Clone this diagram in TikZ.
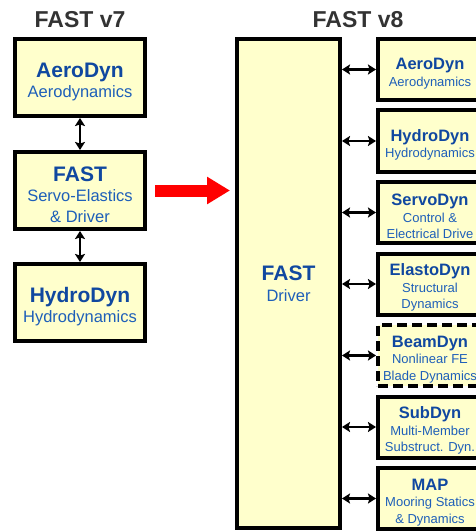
\documentclass[tikz,border=0pt]{standalone}
\usepackage{fontspec}
\setmainfont{Liberation Sans}
\usetikzlibrary{arrows.meta}
\definecolor{boxfill}{RGB}{255,255,204}
\definecolor{ttlblue}{RGB}{16,72,160}
\definecolor{subblue}{RGB}{30,95,185}
\definecolor{headgray}{RGB}{51,51,51}
\newcommand\LTitle[1]{{\fontsize{21}{20.5}\selectfont\bfseries\color{ttlblue}\rule{0pt}{23pt}#1}}
\newcommand\DTitle[1]{{\fontsize{21}{20.5}\selectfont\bfseries\color{ttlblue}#1}}
\newcommand\RTitle[1]{{\fontsize{16.5}{16.5}\selectfont\bfseries\color{ttlblue}\rule{0pt}{19.5pt}#1}}
\begin{document}
\begin{tikzpicture}[x=1pt,y=-1pt,
  modbox/.style={draw=black, line width=4pt, fill=boxfill, inner sep=0pt, outer sep=2pt, align=center, text=subblue},
  leftbox/.style={modbox, minimum width=130pt, minimum height=77pt, font=\fontsize{16.5}{20.5}\selectfont},
  rightbox/.style={modbox, minimum width=104pt, minimum height=61pt, font=\fontsize{13}{16.5}\selectfont},
  heading/.style={font=\fontsize{23}{27}\selectfont\bfseries, text=headgray, inner sep=0pt},
  dbl/.style={{Stealth[length=8pt,width=10pt,inset=1.5pt]}-{Stealth[length=8pt,width=10pt,inset=1.5pt]}, line width=2.6pt}
]
\useasboundingbox (0,0) rectangle (475,532);

\node[heading] (t7) at (80,19.5) {FAST v7};
\node[heading] (t8) at (358,19.5) {FAST v8};

\node[leftbox] (la) at (80,77.5) {\LTitle{AeroDyn}\\Aerodynamics};
\node[leftbox] (lf) at (80,190.5) {\LTitle{FAST}\\Servo-Elastics\\\& Driver};
\node[leftbox] (lh) at (80,302.5) {\LTitle{HydroDyn}\\Hydrodynamics};

\draw[dbl] (la.south) -- (lf.north);
\draw[dbl] (lf.south) -- (lh.north);

\node[modbox, minimum width=103pt, minimum height=489pt, font=\fontsize{16.5}{20.5}\selectfont] (drv) at (288.5,283.5) {\DTitle{FAST}\\Driver};

\draw[red, line width=12pt, -{Triangle[length=23pt,width=26pt]}, shorten <=8pt, shorten >=5pt] (lf.east) -- (lf.east -| drv.west);

\node[rightbox] (ra) at (430,69.5) {\RTitle{AeroDyn}\\Aerodynamics};
\node[rightbox] (rh) at (430,141) {\RTitle{HydroDyn}\\Hydrodynamics};
\node[rightbox] (rs) at (430,212.5) {\RTitle{ServoDyn}\\Control \&\\Electrical Drive};
\node[rightbox] (re) at (430,284) {\RTitle{ElastoDyn}\\Structural\\Dynamics};
\node[rightbox, dash pattern=on 10pt off 5pt] (rb) at (430,355.5) {\RTitle{BeamDyn}\\Nonlinear FE\\Blade Dynamics};
\node[rightbox] (rsd) at (430,427) {\RTitle{SubDyn}\\Multi-Member\\Substruct. Dyn.};
\node[rightbox] (rm) at (430,498.5) {\RTitle{MAP}\\Mooring Statics\\\& Dynamics};

\foreach \r in {ra,rh,rs,re,rb,rsd,rm}
  \draw[dbl] (drv.east |- \r.west) -- (\r.west);
\end{tikzpicture}
\end{document}
